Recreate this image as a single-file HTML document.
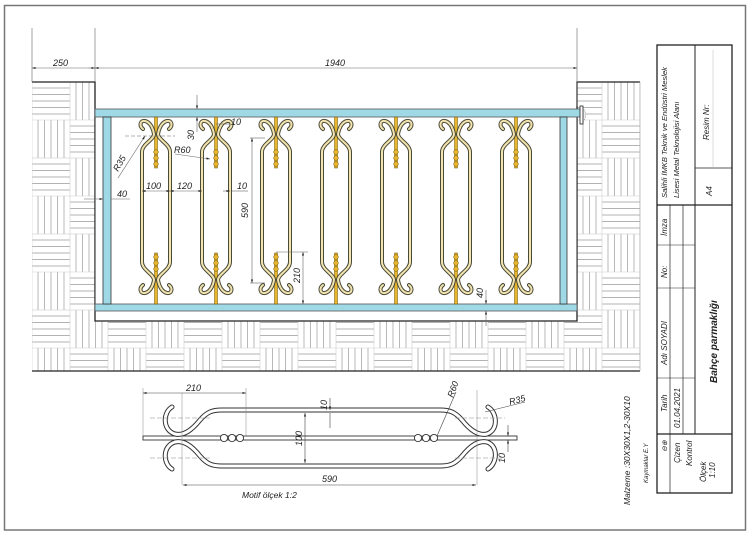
<!DOCTYPE html>
<html><head><meta charset="utf-8"><style>
html,body{margin:0;padding:0;background:#fff;}
svg{display:block;}
text{font-family:"Liberation Sans",sans-serif;font-style:italic;fill:#222;}
</style></head><body>
<svg width="750" height="535" viewBox="0 0 750 535" xmlns="http://www.w3.org/2000/svg">
<defs>
<pattern id="pav" x="32" y="82" width="76" height="76" patternUnits="userSpaceOnUse">
<rect width="76" height="76" fill="#fff"/>
<g stroke="#9a9a9a" stroke-width="0.7">
<line x1="0" y1="6" x2="38" y2="6"/><line x1="0" y1="12.5" x2="38" y2="12.5"/><line x1="0" y1="19" x2="38" y2="19"/><line x1="0" y1="25.5" x2="38" y2="25.5"/><line x1="0" y1="32" x2="38" y2="32"/>
<line x1="44" y1="0" x2="44" y2="38"/><line x1="50.5" y1="0" x2="50.5" y2="38"/><line x1="57" y1="0" x2="57" y2="38"/><line x1="63.5" y1="0" x2="63.5" y2="38"/><line x1="70" y1="0" x2="70" y2="38"/>
<line x1="6" y1="38" x2="6" y2="76"/><line x1="12.5" y1="38" x2="12.5" y2="76"/><line x1="19" y1="38" x2="19" y2="76"/><line x1="25.5" y1="38" x2="25.5" y2="76"/><line x1="32" y1="38" x2="32" y2="76"/>
<line x1="38" y1="44" x2="76" y2="44"/><line x1="38" y1="50.5" x2="76" y2="50.5"/><line x1="38" y1="57" x2="76" y2="57"/><line x1="38" y1="63.5" x2="76" y2="63.5"/><line x1="38" y1="70" x2="76" y2="70"/>
</g>
<g stroke="#d0d0d0" stroke-width="0.6" fill="none"><rect x="0" y="0" width="76" height="76"/><line x1="38" y1="0" x2="38" y2="76"/><line x1="0" y1="38" x2="76" y2="38"/></g>
</pattern>
<g id="pk">
<rect x="-1.5" y="117" width="3" height="51" fill="#e8b52e" stroke="#6b5200" stroke-width="0.5"/>
<rect x="-1.5" y="253" width="3" height="51" fill="#e8b52e" stroke="#6b5200" stroke-width="0.5"/>
<g fill="#e8b52e" stroke="#6b5200" stroke-width="0.5">
<circle cx="0" cy="152" r="2.3"/><circle cx="0" cy="158" r="2.3"/><circle cx="0" cy="164" r="2.3"/>
<circle cx="0" cy="257" r="2.3"/><circle cx="0" cy="263" r="2.3"/><circle cx="0" cy="269" r="2.3"/>
</g>
<g fill="none" stroke-linecap="round">
<path id="hr" d="M13,129 C17,126 16,120 11,121 C6,122 3,128 2,134 C2,140 14,144 14,152 L14,262 C14,270 2,274 2,280 C3,286 6,292 11,293 C16,294 17,288 13,285" stroke="#4a4a3a" stroke-width="4"/>
<path d="M13,129 C17,126 16,120 11,121 C6,122 3,128 2,134 C2,140 14,144 14,152 L14,262 C14,270 2,274 2,280 C3,286 6,292 11,293 C16,294 17,288 13,285" stroke="#f2e4ae" stroke-width="2"/>
<g transform="scale(-1,1)">
<path d="M13,129 C17,126 16,120 11,121 C6,122 3,128 2,134 C2,140 14,144 14,152 L14,262 C14,270 2,274 2,280 C3,286 6,292 11,293 C16,294 17,288 13,285" stroke="#4a4a3a" stroke-width="4"/>
<path d="M13,129 C17,126 16,120 11,121 C6,122 3,128 2,134 C2,140 14,144 14,152 L14,262 C14,270 2,274 2,280 C3,286 6,292 11,293 C16,294 17,288 13,285" stroke="#f2e4ae" stroke-width="2"/>
</g>
</g>
</g>
<marker id="ar" viewBox="0 0 10 10" refX="10" refY="5" markerWidth="6" markerHeight="6" orient="auto-start-reverse"><path d="M0,2 L10,5 L0,8 z" fill="#222"/></marker>
</defs>

<!-- frame -->
<rect x="4.5" y="5.5" width="741" height="524.5" fill="none" stroke="#777" stroke-width="1.5"/>

<!-- paving -->
<rect x="32" y="82" width="63" height="239" fill="url(#pav)"/>
<rect x="577" y="82" width="63" height="239" fill="url(#pav)"/>
<rect x="32" y="321" width="608" height="50" fill="url(#pav)"/>
<path d="M32,82 L95,82 L95,321 L577,321 L577,82 L640,82" fill="none" stroke="#222" stroke-width="1.3"/>
<line x1="32" y1="371" x2="640" y2="371" stroke="#222" stroke-width="1.3"/>
<line x1="640" y1="82" x2="640" y2="371" stroke="#aaa" stroke-width="0.7"/>

<!-- fence -->
<rect x="95.5" y="117" width="481" height="187" fill="#fff"/>
<rect x="95" y="109" width="486" height="8" fill="#9fd9e6" stroke="#555" stroke-width="0.8"/>
<rect x="95" y="304" width="482" height="7" fill="#9fd9e6" stroke="#555" stroke-width="0.8"/>
<rect x="103" y="117" width="8" height="187" fill="#9fd9e6" stroke="#333" stroke-width="0.8"/>
<rect x="560" y="117" width="7" height="187" fill="#9fd9e6" stroke="#333" stroke-width="0.8"/>
<path d="M580,106 A10,10 0 0 1 580,124" fill="#eee" stroke="#999" stroke-width="0.6" stroke-dasharray="1.5,1"/>
<rect x="580" y="106" width="3" height="18" fill="#fff" stroke="#222" stroke-width="0.8"/>

<use href="#pk" x="156"/><use href="#pk" x="216"/><use href="#pk" x="276"/><use href="#pk" x="336"/><use href="#pk" x="396"/><use href="#pk" x="456"/><use href="#pk" x="516"/>

<!-- dimensions top -->
<g stroke="#666" stroke-width="0.6" fill="none">
<line x1="32" y1="28" x2="32" y2="82"/><line x1="95" y1="28" x2="95" y2="82"/><line x1="577" y1="28" x2="577" y2="106"/>
<line x1="32" y1="68" x2="88" y2="68" marker-start="url(#ar)"/><line x1="88" y1="68" x2="95" y2="68" marker-end="url(#ar)"/>
<line x1="95" y1="68" x2="577" y2="68" marker-start="url(#ar)" marker-end="url(#ar)"/>
<line x1="197" y1="95" x2="197" y2="109" marker-end="url(#ar)"/><line x1="197" y1="132" x2="197" y2="117" marker-end="url(#ar)"/>
<line x1="216" y1="124" x2="230" y2="124"/>
<line x1="175" y1="154" x2="210" y2="159" marker-end="url(#ar)"/>
<line x1="118" y1="178" x2="145" y2="136" marker-end="url(#ar)"/>
<line x1="125" y1="136" x2="175" y2="136" stroke-dasharray="4,2"/>
<line x1="84" y1="199" x2="103" y2="199" marker-end="url(#ar)"/><line x1="111" y1="199" x2="130" y2="199"/>
<line x1="142" y1="191" x2="170" y2="191" marker-start="url(#ar)" marker-end="url(#ar)"/>
<line x1="170" y1="191" x2="202" y2="191" marker-start="url(#ar)" marker-end="url(#ar)"/>
<line x1="223" y1="191" x2="230" y2="191" marker-end="url(#ar)"/><line x1="232" y1="191" x2="248" y2="191"/>
<line x1="250" y1="138" x2="265" y2="138"/><line x1="250" y1="283" x2="265" y2="283"/>
<line x1="252" y1="138" x2="252" y2="283" marker-start="url(#ar)" marker-end="url(#ar)"/>
<line x1="276" y1="252" x2="308" y2="252"/>
<line x1="303" y1="252" x2="303" y2="304" marker-start="url(#ar)" marker-end="url(#ar)"/>
<line x1="486" y1="290" x2="486" y2="304" marker-end="url(#ar)"/><line x1="486" y1="326" x2="486" y2="311" marker-end="url(#ar)"/>
</g>
<g font-size="9">
<text x="53" y="66">250</text>
<text x="325" y="66">1940</text>
<text transform="translate(194,140) rotate(-90)">30</text>
<text x="231" y="125">10</text>
<text x="174" y="153">R60</text>
<text transform="translate(118,172) rotate(-60)">R35</text>
<text x="117" y="197">40</text>
<text x="146" y="189">100</text>
<text x="177" y="189">120</text>
<text x="237" y="189">10</text>
<text transform="translate(248,218) rotate(-90)">590</text>
<text transform="translate(300,283) rotate(-90)">210</text>
<text transform="translate(483,298) rotate(-90)">40</text>
</g>

<!-- motif 1:2 -->
<rect x="143" y="436" width="374" height="4" fill="#fff" stroke="#333" stroke-width="0.9"/>
<g fill="#fff" stroke="#333" stroke-width="0.9">
<circle cx="224" cy="438" r="3.6"/><circle cx="232" cy="438" r="3.6"/><circle cx="240" cy="438" r="3.6"/>
<circle cx="418" cy="438" r="3.6"/><circle cx="426" cy="438" r="3.6"/><circle cx="434" cy="438" r="3.6"/>
</g>
<g fill="none" stroke-linecap="round">
<path d="M172,407 C163,412 162,430 175,434 C184,436 192,430 200,420 C207,412 212,410 222,410 L440,410 C450,410 455,412 462,420 C470,430 478,436 487,434 C499,430 497,412 488,407" stroke="#333" stroke-width="5"/>
<path d="M172,407 C163,412 162,430 175,434 C184,436 192,430 200,420 C207,412 212,410 222,410 L440,410 C450,410 455,412 462,420 C470,430 478,436 487,434 C499,430 497,412 488,407" stroke="#fff" stroke-width="3"/>
<path d="M172,469 C163,464 162,446 175,442 C184,440 192,446 200,456 C207,464 212,466 222,466 L440,466 C450,466 455,464 462,456 C470,446 478,440 487,442 C499,446 497,464 488,469" stroke="#333" stroke-width="5"/>
<path d="M172,469 C163,464 162,446 175,442 C184,440 192,446 200,456 C207,464 212,466 222,466 L440,466 C450,466 455,464 462,456 C470,446 478,440 487,442 C499,446 497,464 488,469" stroke="#fff" stroke-width="3"/>
</g>
<g stroke="#888" stroke-width="0.5" fill="none">
<line x1="143" y1="388" x2="143" y2="436"/><line x1="246" y1="388" x2="246" y2="436"/>
<line x1="182" y1="393" x2="182" y2="485"/><line x1="477" y1="390" x2="477" y2="485"/>
<line x1="150" y1="418" x2="210" y2="418" stroke-dasharray="5,2"/><line x1="150" y1="458" x2="210" y2="458" stroke-dasharray="5,2"/>
<line x1="455" y1="418" x2="505" y2="418" stroke-dasharray="5,2"/><line x1="455" y1="458" x2="505" y2="458" stroke-dasharray="5,2"/>
</g>
<g stroke="#444" stroke-width="0.6" fill="none">
<line x1="143" y1="393" x2="246" y2="393" marker-start="url(#ar)" marker-end="url(#ar)"/>
<line x1="183" y1="485" x2="476" y2="485" marker-start="url(#ar)" marker-end="url(#ar)"/>
<line x1="305" y1="413" x2="305" y2="463" marker-start="url(#ar)" marker-end="url(#ar)"/>
<line x1="330" y1="398" x2="330" y2="410" marker-end="url(#ar)"/><line x1="330" y1="428" x2="330" y2="413"/>
<line x1="508" y1="425" x2="508" y2="436" marker-end="url(#ar)"/><line x1="508" y1="452" x2="508" y2="440" marker-end="url(#ar)"/>
<line x1="500" y1="436" x2="516" y2="436"/><line x1="500" y1="440" x2="516" y2="440"/>
<line x1="437" y1="436" x2="456" y2="392"/>
<line x1="485" y1="412" x2="525" y2="402"/>
</g>
<g font-size="9">
<text x="186" y="391">210</text>
<text transform="translate(453,398) rotate(-70)">R60</text>
<text transform="translate(510,405) rotate(-15)">R35</text>
<text transform="translate(327,410) rotate(-90)">10</text>
<text transform="translate(302,446) rotate(-90)">100</text>
<text transform="translate(505,463) rotate(-90)">10</text>
<text x="322" y="482">590</text>
<text x="242" y="498" font-size="8.5">Motif  ölçek 1:2</text>
<text transform="translate(630,505) rotate(-90)" font-size="8.5">Malzeme :30X30X1,2-30X10</text>
<text transform="translate(648,483) rotate(-90)" font-size="6">Kaymaklar E.Y</text>
</g>

<!-- title block -->
<g fill="none" stroke="#222">
<rect x="657" y="45" width="75" height="448" stroke-width="1.3"/>
<line x1="670" y1="205" x2="670" y2="493" stroke-width="0.7"/>
<line x1="683" y1="205" x2="683" y2="434" stroke-width="0.7"/>
<line x1="695" y1="45" x2="695" y2="434" stroke-width="1"/>
<line x1="657" y1="205" x2="732" y2="205" stroke-width="1.2"/>
<line x1="695" y1="168" x2="732" y2="168" stroke-width="0.8"/>
<line x1="713" y1="50" x2="713" y2="168" stroke="#bbb" stroke-width="0.5"/>
<line x1="657" y1="245" x2="695" y2="245" stroke-width="0.6"/>
<line x1="657" y1="288" x2="695" y2="288" stroke-width="0.6"/>
<line x1="657" y1="378" x2="695" y2="378" stroke-width="0.6"/>
<line x1="657" y1="434" x2="732" y2="434" stroke-width="1.2"/>
</g>
<g font-size="8">
<text transform="translate(667,198) rotate(-90)" font-size="7.6">Salihli İMKB Teknik ve Endüstri Meslek</text>
<text transform="translate(679,198) rotate(-90)" font-size="7.6">Lisesi Metal Teknolojisi Alanı</text>
<text transform="translate(709,140) rotate(-90)">Resim Nr:</text>
<text transform="translate(712,196) rotate(-90)">A4</text>
<text transform="translate(667,236) rotate(-90)">İmza</text>
<text transform="translate(667,278) rotate(-90)">No:</text>
<text transform="translate(667,365) rotate(-90)">Adı SOYADI</text>
<text transform="translate(667,412) rotate(-90)">Tarih</text>
<text transform="translate(667,452) rotate(-90)" font-size="7" fill="#888">⊖⊕</text>
<text transform="translate(680,428) rotate(-90)">01.04.2021</text>
<text transform="translate(680,463) rotate(-90)">Çizen</text>
<text transform="translate(692,466) rotate(-90)">Kontrol</text>
<text transform="translate(706,482) rotate(-90)">Ölçek</text>
<text transform="translate(715,478) rotate(-90)">1:10</text>
<text transform="translate(717,383) rotate(-90)" font-size="10" font-weight="bold">Bahçe parmaklığı</text>
</g>
</svg>
</body></html>
